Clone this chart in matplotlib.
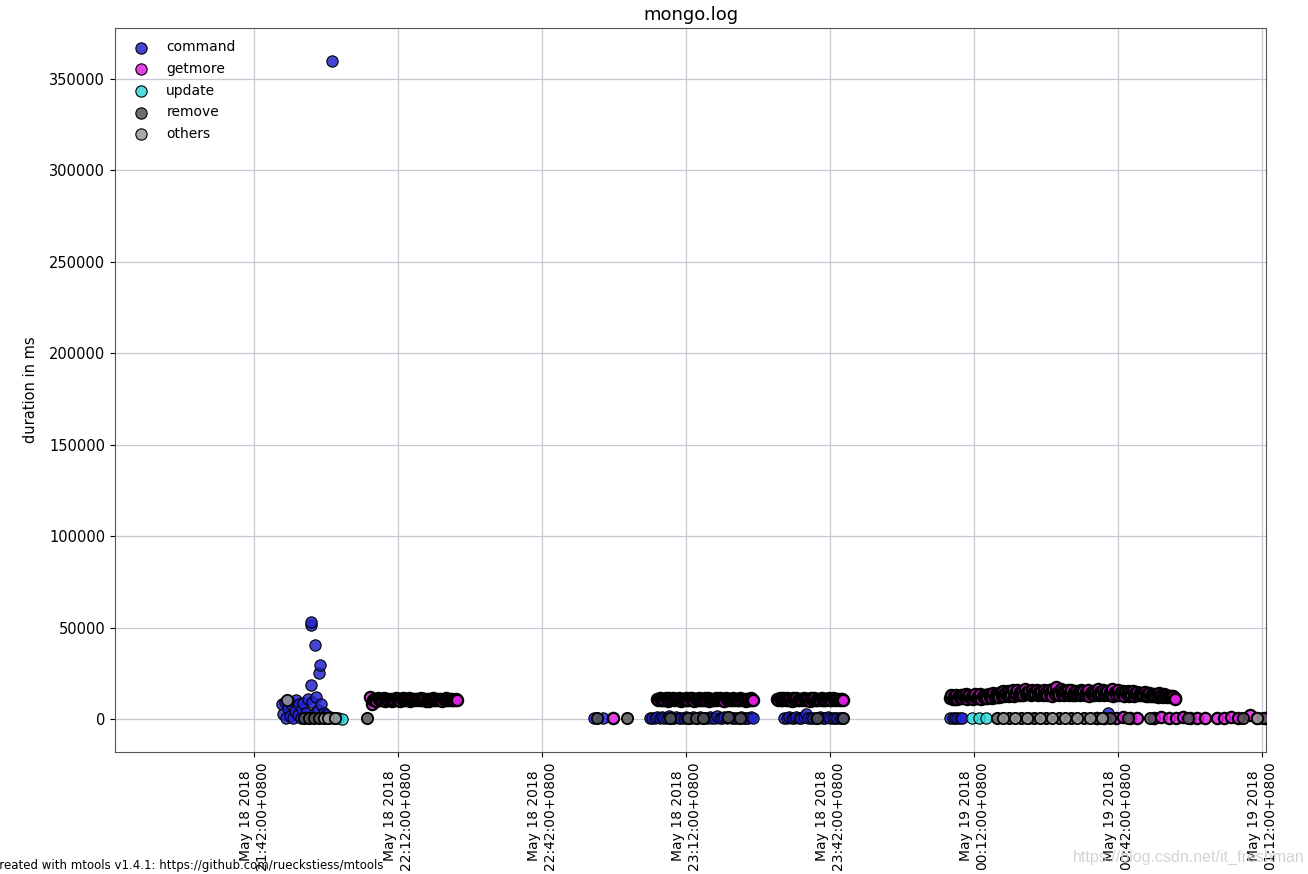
from datetime import datetime, timedelta
import matplotlib
matplotlib.use("Agg")
import matplotlib.pyplot as plt
import matplotlib.dates as mdates
from matplotlib.colors import to_rgba

# minutos desde 2018-05-18 21:00 (+0800) y duración en ms
base = datetime(2018, 5, 18, 21, 0)

command_min = [47.8, 48.1, 48.4, 48.7, 49.0, 49.3, 49.6, 49.9, 50.2, 50.5,
               50.8, 51.1, 51.4, 51.7, 52.0, 52.3, 52.6, 52.9, 53.2, 53.5,
               53.8, 53.9, 53.95, 54.1, 54.4, 54.7, 55.0, 55.3, 55.6, 55.75,
               55.9, 56.2, 56.5, 56.8, 57.1, 57.4, 57.8, 58.25, 58.5,
               112.8, 114.7,
               124.5, 125.0, 125.5, 126.0, 126.5, 127.0, 127.5, 128.0, 128.5, 129.0,
               129.5, 130.0, 130.5, 131.0, 131.5, 132.0, 132.5, 133.0, 133.5, 134.0,
               134.5, 135.0, 135.5, 136.0, 136.5, 137.0, 137.5, 138.0, 138.5, 139.0,
               139.5, 140.0, 140.5, 141.0, 141.5, 142.0, 142.5, 143.0, 143.5, 144.0,
               144.5, 145.0, 145.5, 146.0,
               152.5, 153.0, 153.5, 154.0, 154.5, 155.0, 155.5, 156.0, 156.5, 157.0,
               157.5, 158.0, 158.5, 159.0, 159.5, 160.0, 160.5, 161.0, 161.5, 162.0,
               162.5, 163.0, 163.5, 164.0, 164.5,
               187.0, 187.5, 188.0, 188.5, 189.0, 189.5, 219.9]
command_ms = [8000, 2500, 9500, 500, 6000, 10000, 1500, 7500, 300, 4500,
              10500, 2000, 8000, 600, 5500, 9000, 1200, 3500, 11000, 700,
              18600, 51400, 53200, 9500, 2500, 40500, 12000, 5000, 25100, 29500,
              8000, 1500, 3000, 600, 2200, 400, 1000, 360000, 500,
              300, 500,
              400, 800, 300, 1200, 500, 900, 300, 700, 1500, 400,
              600, 1000, 300, 800, 500, 1300, 400, 700, 1100, 300,
              600, 900, 400, 700, 300, 1000, 500, 800, 1400, 300,
              600, 900, 400, 1100, 500, 300, 800, 600, 1200, 400,
              700, 300, 900, 500,
              500, 300, 900, 400, 700, 1100, 300, 600, 1000, 2500,
              400, 800, 300, 600, 500, 900, 300, 700, 1200, 400,
              600, 300, 800, 500, 400,
              300, 600, 400, 800, 500, 300, 3200]

getmore_min = [66.2, 66.5, 66.75, 67.0, 67.25, 67.5, 67.75, 68.0, 68.25, 68.5,
               68.75, 69.0, 69.25, 69.5, 69.75, 70.0, 70.25, 70.5, 70.75, 71.0,
               71.25, 71.5, 71.75, 72.0, 72.25, 72.5, 72.75, 73.0, 73.25, 73.5,
               73.75, 74.0, 74.25, 74.5, 74.75, 75.0, 75.25, 75.5, 75.75, 76.0,
               76.25, 76.5, 76.75, 77.0, 77.25, 77.5, 77.75, 78.0, 78.25, 78.5,
               78.75, 79.0, 79.25, 79.5, 79.75, 80.0, 80.25, 80.5, 80.75, 81.0,
               81.25, 81.5, 81.75, 82.0, 82.25, 82.5, 82.75, 83.0, 83.25, 83.5,
               83.75, 84.0, 84.3,
               116.8,
               126.0, 126.25, 126.5, 126.75, 127.0, 127.25, 127.5, 127.75, 128.0, 128.25,
               128.5, 128.75, 129.0, 129.25, 129.5, 129.75, 130.0, 130.25, 130.5, 130.75,
               131.0, 131.25, 131.5, 131.75, 132.0, 132.25, 132.5, 132.75, 133.0, 133.25,
               133.5, 133.75, 134.0, 134.25, 134.5, 134.75, 135.0, 135.25, 135.5, 135.75,
               136.0, 136.25, 136.5, 136.75, 137.0, 137.25, 137.5, 137.75, 138.0, 138.25,
               138.5, 138.75, 139.0, 139.25, 139.5, 139.75, 140.0, 140.25, 140.5, 140.75,
               141.0, 141.25, 141.5, 141.75, 142.0, 142.25, 142.5, 142.75, 143.0, 143.25,
               143.5, 143.75, 144.0, 144.25, 144.5, 144.75, 145.0, 145.25, 145.5, 145.75,
               146.0,
               151.0, 151.25, 151.5, 151.75, 152.0, 152.25, 152.5, 152.75, 153.0, 153.25,
               153.5, 153.75, 154.0, 154.25, 154.5, 154.75, 155.0, 155.25, 155.5, 155.75,
               156.0, 156.25, 156.5, 156.75, 157.0, 157.25, 157.5, 157.75, 158.0, 158.25,
               158.5, 158.75, 159.0, 159.25, 159.5, 159.75, 160.0, 160.25, 160.5, 160.75,
               161.0, 161.25, 161.5, 161.75, 162.0, 162.25, 162.5, 162.75, 163.0, 163.25,
               163.5, 163.75, 164.0, 164.25, 164.5, 164.7,
               187.0, 187.25, 187.5, 187.75, 188.0, 188.25, 188.5, 188.75, 189.0, 189.25,
               189.5, 189.75, 190.0, 190.25, 190.5, 190.75, 191.0, 191.25, 191.5, 191.75,
               192.0, 192.25, 192.5, 192.75, 193.0, 193.25, 193.5, 193.75, 194.0, 194.25,
               194.5, 194.75, 195.0, 195.25, 195.5, 195.75, 196.0, 196.25, 196.5, 196.75,
               197.0, 197.25, 197.5, 197.75, 198.0, 198.25, 198.5, 198.75, 199.0, 199.25,
               199.5, 199.75, 200.0, 200.25, 200.5, 200.75, 201.0, 201.25, 201.5, 201.75,
               202.0, 202.25, 202.5, 202.75, 203.0, 203.25, 203.5, 203.75, 204.0, 204.25,
               204.5, 204.75, 205.0, 205.25, 205.5, 205.75, 206.0, 206.25, 206.5, 206.75,
               207.0, 207.25, 207.5, 207.75, 208.0, 208.25, 208.5, 208.75, 209.0, 209.25,
               209.5, 209.75, 210.0, 210.25, 210.5, 210.75, 211.0, 211.25, 211.5, 211.75,
               212.0, 212.25, 212.5, 212.75, 213.0, 213.25, 213.5, 213.75, 214.0, 214.25,
               214.5, 214.75, 215.0, 215.25, 215.5, 215.75, 216.0, 216.25, 216.5, 216.75,
               217.0, 217.25, 217.5, 217.75, 218.0, 218.25, 218.5, 218.75, 219.0, 219.25,
               219.5, 219.75, 220.0, 220.25, 220.5, 220.75, 221.0, 221.25, 221.5, 221.75,
               222.0, 222.25, 222.5, 222.75, 223.0, 223.25, 223.5, 223.75, 224.0, 224.25,
               224.5, 224.75, 225.0, 225.25, 225.5, 225.75, 226.0, 226.25, 226.5, 226.75,
               227.0, 227.25, 227.5, 227.75, 228.0, 228.25, 228.5, 228.75, 229.0, 229.25,
               229.5, 229.75, 230.0, 230.25, 230.5, 230.75, 231.0, 231.25, 231.5, 231.75,
               232.0, 232.25, 232.5, 232.75, 233.0, 233.25, 233.5, 233.75, 233.9,
               217.6, 219.0, 221.5, 223.0, 224.5, 226.0, 229.5, 231.0, 232.5, 234.0,
               235.5, 237.0, 238.5, 240.0, 242.5, 244.0, 245.5, 247.0, 249.5, 251.0,
               252.5]
getmore_ms = [12000, 8000, 10300, 11100, 10600, 10100, 11300, 10800, 10200, 11000,
              10500, 11400, 10100, 10700, 11200, 10300, 11100, 10600, 10000, 10900,
              10400, 11300, 10200, 10800, 11100, 10100, 10700, 11400, 10500, 10200,
              11000, 10600, 11300, 10100, 10800, 11200, 10400, 11000, 10700, 10200,
              11100, 10500, 11400, 10300, 10900, 11200, 10100, 10800, 10600, 10000,
              11000, 10700, 11300, 10200, 10500, 11100, 10300, 10900, 11200, 10400,
              10100, 11000, 10700, 11300, 10200, 10600, 11100, 10400, 10900, 10500,
              10300, 10800, 10600,
              300,
              11000, 10300, 11400, 10600, 10200, 11200, 10400, 11500, 10800, 10100,
              11300, 10500, 10900, 11400, 10200, 10700, 11200, 10400, 11500, 10600,
              10100, 11100, 10800, 10300, 11400, 10500, 10200, 11300, 10700, 11500,
              10400, 10100, 11200, 10900, 10300, 11400, 10600, 10200, 11100, 10500,
              11300, 10400, 11500, 10000, 10700, 11200, 10600, 10300, 11000, 11400,
              10500, 10900, 11300, 10200, 11100, 10700, 10100, 11400, 10800, 10400,
              11200, 10500, 10300, 11300, 10900, 10200, 11100, 10600, 10400, 11500,
              10800, 10300, 11200, 10500, 10100, 11000, 10700, 10400, 11300, 10600,
              10400,
              10900, 10300, 11400, 10600, 10200, 11300, 10800, 10400, 11500, 10500,
              11200, 10700, 10100, 11400, 10900, 10300, 11300, 10600, 10200, 11100,
              10800, 10400, 11500, 10500, 10300, 11200, 10700, 10100, 11400, 10900,
              10400, 11300, 10600, 10200, 11100, 10800, 10500, 11400, 10300, 10600,
              11200, 10400, 10700, 11500, 10500, 10200, 11300, 10800, 10400, 11100,
              10900, 10300, 11000, 10600, 10800, 10400,
              11500, 13000, 10800, 12600, 11200, 13300, 10900, 12800, 11600, 13100,
              11300, 12900, 11800, 13400, 11000, 12700, 13200, 11500, 12400, 10900,
              12300, 13500, 11400, 12800, 11900, 13600, 11200, 12500, 13300, 11700,
              12900, 11300, 13700, 12100, 13000, 11600, 14000, 12200, 13400, 11800,
              13800, 12000, 14600, 12700, 15200, 12400, 14300, 13000, 15500, 12600,
              14800, 13100, 15600, 12800, 14400, 13500, 15900, 12900, 14700, 13300,
              15300, 13000, 16200, 13700, 14900, 14100, 15500, 13200, 16000, 13800,
              14900, 13400, 15700, 12900, 14600, 13600, 15400, 13100, 16100, 13900,
              14500, 13000, 15800, 13500, 14800, 12800, 16400, 13700, 17500, 14200,
              15000, 13200, 16300, 13600, 15300, 12900, 14700, 13400, 15600, 13100,
              14400, 15800, 13300, 14900, 12900, 15500, 13800, 14600, 13000, 16000,
              13700, 15200, 13100, 14800, 13500, 15900, 12800, 14300, 13600, 15400,
              13200, 14700, 13800, 16200, 13000, 14900, 13400, 15600, 12900, 14500,
              13700, 15100, 13100, 14600, 13500, 16400, 12800, 14800, 13300, 15200,
              15600, 12900, 14700, 13400, 15300, 12700, 14500, 13600, 15100, 12800,
              14900, 13200, 15400, 12600, 14300, 13800, 15000, 12900, 14400, 13300,
              14200, 13100, 14800, 12500, 13900, 12800, 14400, 12300, 13600, 12600,
              13800, 12400, 13500, 12200, 14100, 12700, 13300, 12000, 13700, 12500,
              13200, 11900, 12800, 12100, 12600, 11800, 12400, 11600, 11000,
              400, 800, 300, 1000, 500, 700, 300, 900, 400, 600,
              1100, 300, 800, 500, 700, 400, 900, 300, 2000, 600,
              400]

update_min = [59.5, 60.3, 191.5, 193.0, 194.5, 203.5]
update_ms = [300, 200, 400, 300, 500, 300]

remove_min = [52.5, 53.5, 54.5, 55.5, 65.5,
              113.5, 119.7,
              128.7, 132.4, 134.0, 135.5, 140.7, 143.2,
              159.3, 164.7,
              196.8, 199.2, 201.8, 204.4, 207.0, 209.6, 212.2, 214.8, 217.4, 220.3,
              224.0, 228.7, 236.5, 248.0, 252.2]
remove_ms = [400, 600, 300, 500, 800,
             300, 400,
             500, 300, 600, 400, 1200, 400,
             500, 400,
             400, 300, 500, 400, 300, 600, 400, 300, 500, 400,
             300, 500, 400, 400, 300]

others_min = [48.9, 56.5, 57.5, 58.8,
              198.0, 200.5, 203.1, 205.7, 208.3, 210.9, 213.5, 216.1, 218.7, 250.9]
others_ms = [10400, 400, 300, 300,
             300, 500, 400, 300, 600, 400, 300, 500, 400, 300]

# nombre, datos, color, grosor del borde
series = [
    ("command", command_min, command_ms, "#2424cc", 0.8),
    ("getmore", getmore_min, getmore_ms, "#e020e0", 1.6),
    ("update", update_min, update_ms, "#30d8d8", 0.8),
    ("remove", remove_min, remove_ms, "#555555", 1.3),
    ("others", others_min, others_ms, "#9a9a9a", 1.3),
]


def a_fechas(minutos):
    return [base + timedelta(minutes=m) for m in minutos]


fig = plt.figure(figsize=(13.08, 8.74), dpi=100)
ax = fig.add_axes([0.0879, 0.1396, 0.88, 0.8284])

for nombre, mins, valores, color, borde in series:
    assert len(mins) == len(valores), nombre
    ax.scatter(a_fechas(mins), valores, s=66, color=to_rgba(color, 0.85),
               edgecolors="black", linewidths=borde, label=nombre, zorder=3)

ax.set_xlim(base + timedelta(minutes=13.04), base + timedelta(minutes=252.8))
ax.set_ylim(-18050, 377900)
ax.set_yticks([0, 50000, 100000, 150000, 200000, 250000, 300000, 350000])

ax.xaxis.set_major_locator(mdates.MinuteLocator(byminute=[12, 42]))
ax.xaxis.set_major_formatter(mdates.DateFormatter("%b %d %Y\n%H:%M:%S+0800"))
plt.setp(ax.get_xticklabels(), rotation=90, fontsize=10)
ax.tick_params(axis="y", labelsize=10.5)

ax.grid(True, color="#c9c9d6", linewidth=0.9)
ax.set_axisbelow(True)
for sp in ax.spines.values():
    sp.set_color("#555555")

ax.set_title("mongo.log", fontsize=13)
ax.set_ylabel("duration in ms", fontsize=10.5, labelpad=8)

leg = ax.legend(loc="upper left", frameon=False, fontsize=10, scatterpoints=1,
                labelspacing=0.55)
for h in leg.legend_handles:
    h.set_linewidths(0.8)

fig.text(-0.0065, 0.002, "Created with mtools v1.4.1: https://github.com/rueckstiess/mtools",
         fontsize=8.5, ha="left", va="bottom")
fig.text(0.820, 0.0195, "https://blog.csdn.net/it_freshman", fontsize=11.5,
         family="Liberation Sans", color="#cfcfcf", alpha=0.9, ha="left", va="center",
         zorder=10)

fig.savefig("out.png", dpi=100)
